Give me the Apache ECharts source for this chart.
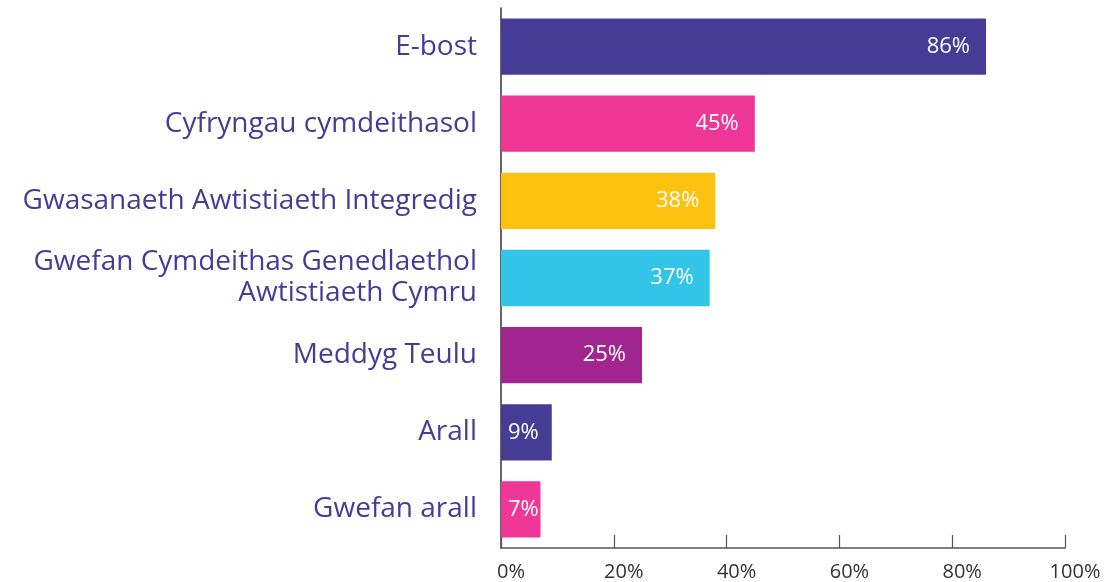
<!DOCTYPE html>
<html>
<head>
<meta charset="utf-8">
<script src="https://cdn.jsdelivr.net/npm/echarts@6/dist/echarts.min.js"></script>
<style>
  html, body { margin: 0; padding: 0; background: #fff; }
  #chart { width: 1105px; height: 582px; }
</style>
</head>
<body>
<div id="chart"></div>
<script>
// source data
var categories = [
    'E-bost',
    'Cyfryngau cymdeithasol',
    'Gwasanaeth Awtistiaeth Integredig',
    'Gwefan Cymdeithas Genedlaethol\nAwtistiaeth Cymru',
    'Meddyg Teulu',
    'Arall',
    'Gwefan arall'
];
var values = [86, 45, 38, 37, 25, 9, 7];
var barColors = ['#463c96', '#ee3796', '#fdc210', '#33c4ea', '#a0258f', '#463c96', '#ee3796'];
var tickValues = [0, 20, 40, 60, 80, 100];

var txtFont = '"Open Sans", Lato, sans-serif';

var barData = [];
for (var i = 0; i < values.length; i++) {
    var item = { value: values[i], itemStyle: { color: barColors[i] } };
    // short bars: keep the label inside, starting near the axis
    if (values[i] < 10) {
        item.label = { position: 'insideLeft', distance: 7 };
    }
    barData.push(item);
}

var option = {
    animation: false,
    grid: { left: 501, right: 40, top: 8, bottom: 30, containLabel: false },
    xAxis: {
        type: 'value',
        min: tickValues[0],
        max: tickValues[tickValues.length - 1],
        interval: 20,
        splitLine: { show: false },
        axisLine: { show: true, lineStyle: { color: '#555', width: 1.5 } },
        axisTick: { show: true, inside: true, length: 13, lineStyle: { color: '#555', width: 1.2 } },
        axisLabel: {
            formatter: '{value}%',
            color: '#333',
            fontSize: 20,
            fontFamily: txtFont,
            margin: 14,
            padding: [0, 0, 0, 20]
        }
    },
    yAxis: {
        type: 'category',
        data: categories,
        inverse: true,
        axisLine: { show: true, lineStyle: { color: '#333', width: 1.5 } },
        axisTick: { show: false },
        axisLabel: {
            color: '#463c96',
            fontSize: 28,
            lineHeight: 31,
            fontFamily: txtFont,
            margin: 24,
            align: 'right'
        }
    },
    series: [{
        type: 'bar',
        data: barData,
        barCategoryGap: '27%',
        label: {
            show: true,
            position: 'insideRight',
            distance: 16,
            formatter: '{c}%',
            color: '#fff',
            fontSize: 22,
            fontFamily: txtFont
        }
    }]
};

var myChart = echarts.init(document.getElementById('chart'));
myChart.setOption(option);
</script>
</body>
</html>
